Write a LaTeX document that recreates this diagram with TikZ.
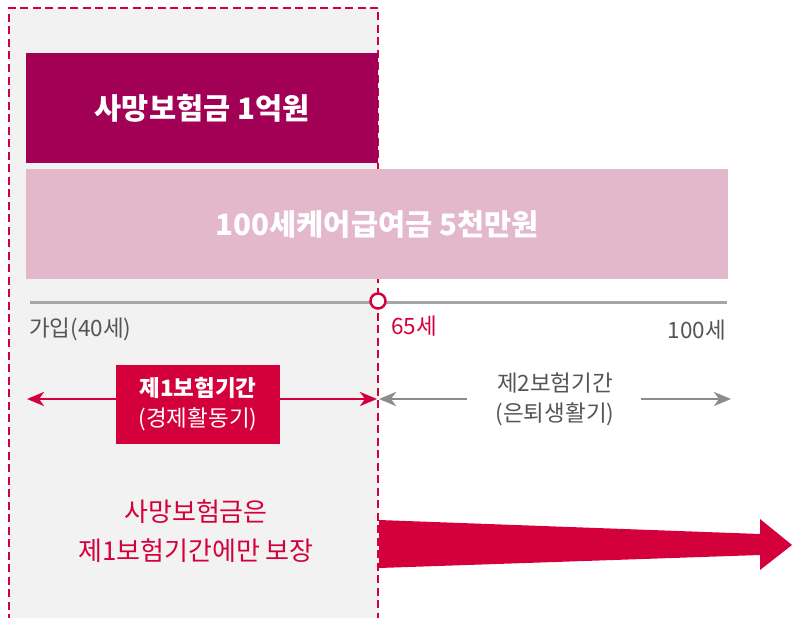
\documentclass[tikz,border=0pt]{standalone}
\usepackage{fontspec}
\setmainfont{Noto Sans CJK KR}
\usetikzlibrary{arrows.meta}
\definecolor{cred}{HTML}{D4003C}
\definecolor{cdark}{HTML}{A20055}
\definecolor{cpink}{HTML}{E3B8CB}
\definecolor{cbg}{HTML}{F2F2F2}
\definecolor{cline}{HTML}{A6A6A6}
\definecolor{cgreytxt}{HTML}{555555}
\definecolor{cgreyarr}{HTML}{8C8C8C}
\tikzset{
  band/.style={draw=none, minimum height=110pt, inner sep=0pt, text=white, font=\fontsize{29.5}{34}\selectfont\bfseries},
  lbl/.style={inner sep=0pt, font=\fontsize{22.5}{26}\selectfont},
  redarr/.style={draw=cred, line width=2.7pt, -{Stealth[length=17pt,width=14pt,inset=5pt]}},
  greyarr/.style={draw=cgreyarr, line width=2.7pt, -{Stealth[length=17pt,width=14pt,inset=5pt]}},
  dashedred/.style={draw=cred, line width=2.8pt, dash pattern=on 8pt off 4.5pt},
}
\begin{document}
\begin{tikzpicture}[x=1pt,y=-1pt]
\useasboundingbox (0,0) rectangle (792,618);
% background panel
\fill[cbg] (9,8) rectangle (379,620);
\draw[dashedred] (9,622) -- (9,8) -- (378,8) -- (378,622);
% bands
\node[band, fill=cdark, minimum width=352pt, anchor=north west] (death) at (26,53) {사망보험금 1억원};
\node[band, fill=cpink, minimum width=702pt, anchor=north west] (care) at (26,169) {100세케어급여금 5천만원};
% timeline
\coordinate (tl0) at (30,302);
\coordinate (tl1) at (727,302);
\draw[cline, line width=3pt] (tl0) -- (tl1);
\node[circle, draw=cred, fill=white, line width=2.5pt, minimum size=15pt, inner sep=0pt] (c65) at (378,301) {};
\node[lbl, text=cgreytxt, anchor=west] (join) at (29,329) {가입(40세)};
\node[lbl, text=cred, anchor=west] (a65) at (391,326) {65세};
\node[lbl, text=cgreytxt, anchor=east] (a100) at (726,330) {100세};
% period 1
\coordinate (p1l) at (27,399);
\coordinate (p1r) at (377,399);
\node[fill=cred, text=white, minimum width=164pt, minimum height=79pt, inner sep=0pt, align=center, font=\fontsize{22.5}{30}\selectfont] (per1) at (198,404.5) {\textbf{제1보험기간}\\(경제활동기)};
\draw[redarr] (per1.west |- p1l) -- (p1l);
\draw[redarr] (per1.east |- p1r) -- (p1r);
% period 2
\node[lbl, text=cgreytxt, align=center, font=\fontsize{22.5}{30}\selectfont] (per2) at (555,399) {제2보험기간\\(은퇴생활기)};
\coordinate (p2l) at (379,399);
\coordinate (p2r) at (731,399);
\coordinate (g2l) at (467,399);
\coordinate (g2r) at (641,399);
\draw[greyarr] (g2l) -- (p2l);
\draw[greyarr] (g2r) -- (p2r);
% note
\node[text=cred, align=center, inner sep=0pt, font=\fontsize{26}{39}\selectfont] (note) at (196,531) {사망보험금은\\제1보험기간에만 보장};
% big arrow
\fill[cred] (379,520) -- (760,534) -- (760,519) -- (792,545) -- (760,570) -- (760,555) -- (379,568) -- cycle;
\end{tikzpicture}
\end{document}
